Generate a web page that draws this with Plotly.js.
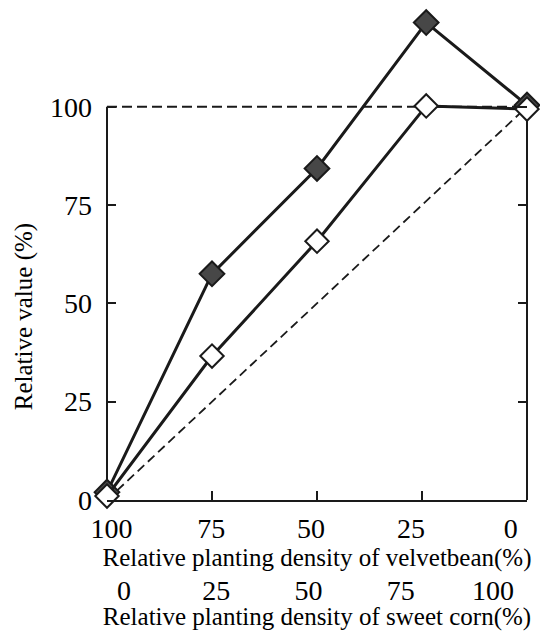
<!DOCTYPE html>
<html>
<head>
<meta charset="utf-8">
<script src="https://cdn.plot.ly/plotly-3.0.1.min.js"></script>
<style>
html,body{margin:0;padding:0;background:#fff;}
#chart text{font-family:'Liberation Serif',serif !important;}
</style>
</head>
<body>
<div id="chart" style="width:540px;height:631px"></div>
<script>
// Relative planting density of velvetbean (%) for each mixture
var velvetDensity = [100, 75, 50, 24, 0];
// Filled-diamond series (relative value, %)
var filledValues = [2, 57.5, 84.3, 121.4, 100.4];
// Open-diamond series (relative value, %)
var openValues = [1, 36.6, 65.8, 100.2, 99.4];
// Reference lines
var refFlatX = [100, 0];
var refFlatY = [100, 100];
var refDiagX = [100, 0];
var refDiagY = [0, 100];
// Tick labels
var velvetTicks = [100, 75, 50, 25, 0];
var cornTicks = [0, 25, 50, 75, 100];
var yTicks = [0, 25, 50, 75, 100];

var ink = '#1a1a1a';
var fontFam = 'serif';

var traces = [
  {x: refFlatX, y: refFlatY, mode: 'lines', line: {color: ink, width: 2, dash: '10px,5px'}, hoverinfo: 'skip', showlegend: false},
  {x: refDiagX, y: refDiagY, mode: 'lines', line: {color: ink, width: 1.8, dash: '9px,5px'}, hoverinfo: 'skip', showlegend: false},
  {x: velvetDensity, y: filledValues, mode: 'lines+markers', cliponaxis: false,
   line: {color: ink, width: 3},
   marker: {symbol: 'diamond', size: 19, color: '#474747', line: {color: ink, width: 2}}, showlegend: false},
  {x: velvetDensity, y: openValues, mode: 'lines+markers', cliponaxis: false,
   line: {color: ink, width: 3},
   marker: {symbol: 'diamond', size: 18, color: '#ffffff', line: {color: ink, width: 2}}, showlegend: false},
  {x: [], y: [], xaxis: 'x2', yaxis: 'y', showlegend: false, hoverinfo: 'skip'},
  {x: [], y: [], xaxis: 'x3', yaxis: 'y', showlegend: false, hoverinfo: 'skip'}
];

var layout = {
  width: 540, height: 631,
  margin: {l: 107, r: 13, t: 5, b: 131},
  paper_bgcolor: '#fff', plot_bgcolor: 'rgba(0,0,0,0)',
  font: {family: fontFam, color: '#000', size: 28},
  showlegend: false,
  xaxis: {
    range: [100, 0], tickvals: velvetTicks, showticklabels: false,
    ticks: 'inside', ticklen: 9, tickwidth: 2, tickcolor: ink,
    showline: true, linewidth: 2, linecolor: ink,
    showgrid: false, zeroline: false
  },
  xaxis2: {
    overlaying: 'x', side: 'bottom', anchor: 'y',
    range: [101.1, -4.06], tickvals: velvetTicks, ticktext: velvetTicks.map(String),
    ticks: '', showline: false, showgrid: false, zeroline: false,
    ticklabelstandoff: 9,
    tickfont: {family: fontFam, size: 28, color: '#000'},
    title: {text: 'Relative planting density of velvetbean(%)', font: {family: fontFam, size: 25, color: '#000'}, standoff: 0}
  },
  xaxis3: {
    overlaying: 'x', side: 'bottom', anchor: 'y',
    range: [-4.58, 109.2], tickvals: cornTicks, ticktext: cornTicks.map(String),
    ticks: '', showline: false, showgrid: false, zeroline: false,
    ticklabelstandoff: 71,
    tickfont: {family: fontFam, size: 28, color: '#000'},
    title: {text: 'Relative planting density of sweet corn(%)', font: {family: fontFam, size: 25, color: '#000'}, standoff: 0}
  },
  yaxis: {
    range: [0, 125.86], tickvals: yTicks, ticktext: yTicks.map(String),
    ticks: 'inside', ticklen: 9, tickwidth: 2, tickcolor: ink, mirror: 'ticks',
    showline: false, showgrid: false, zeroline: false,
    ticklabelstandoff: 14,
    tickfont: {family: fontFam, size: 28, color: '#000'}
  },
  shapes: [
    {type: 'line', xref: 'paper', yref: 'y', x0: 0, x1: 0, y0: 0, y1: 100, layer: 'below', line: {color: ink, width: 2}},
    {type: 'line', xref: 'paper', yref: 'y', x0: 1, x1: 1, y0: 0, y1: 100, layer: 'below', line: {color: ink, width: 2}}
  ],
  annotations: [
    {text: 'Relative value (%)', xref: 'paper', yref: 'paper', x: -0.1986, y: 0.3703,
     xanchor: 'center', yanchor: 'middle', textangle: -90, showarrow: false,
     font: {family: fontFam, size: 25, color: '#000'}}
  ]
};

Plotly.newPlot('chart', traces, layout, {displayModeBar: false});
</script>
</body>
</html>
